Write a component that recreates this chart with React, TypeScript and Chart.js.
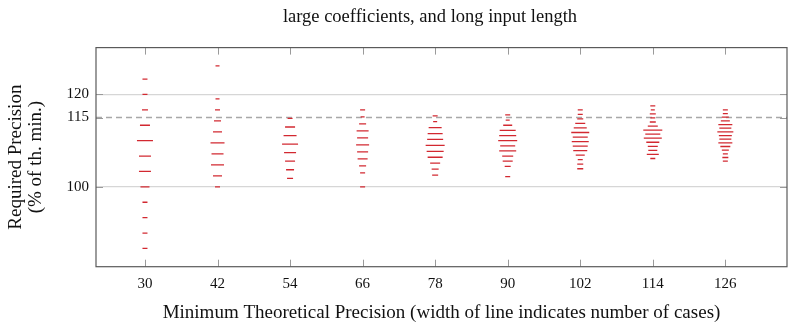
import React, { useEffect, useRef } from 'react';
import { Chart, registerables } from 'chart.js';

Chart.register(...registerables);

// ---- data ----
const categories = [30, 42, 54, 66, 78, 90, 102, 114, 126];
const xTickLabels = ['30', '42', '54', '66', '78', '90', '102', '114', '126'];
const yTickValues = [100, 115, 120];
const thresholdValue = 115;
const xMin = 21.9;
const xMax = 136.2;
const yMin = 82.72;
const yMax = 130.14;

const precision30 = [86.67, 90.0, 93.33, 96.67, 100.0, 103.33, 106.67, 110.0, 113.33, 116.67, 120.0, 123.33];
const cases30 = [5, 5, 5, 5, 9, 12, 12, 16, 10, 6, 5, 5];
const precision42 = [100.0, 102.38, 104.76, 107.14, 109.52, 111.9, 114.29, 116.67, 119.05, 126.19];
const cases42 = [5, 9, 13, 12, 14, 9, 7, 5, 4, 4];
const precision54 = [101.85, 103.7, 105.56, 107.41, 109.26, 111.11, 112.96, 114.81];
const cases54 = [6, 8, 10, 12, 16, 13, 10, 5];
const precision66 = [100.0, 103.03, 104.55, 106.06, 107.58, 109.09, 110.61, 112.12, 113.64, 115.15, 116.67];
const cases66 = [5, 5, 7, 10, 11, 13, 11, 12, 7, 4, 5];
const precision78 = [102.56, 103.85, 105.13, 106.41, 107.69, 108.97, 110.26, 111.54, 112.82, 114.1, 115.38];
const cases78 = [6, 7, 10, 15, 17, 19, 16, 15, 13, 4, 5];
const precision90 = [102.22, 104.44, 105.56, 106.67, 107.78, 108.89, 110.0, 111.11, 112.22, 113.33, 114.44, 115.56];
const cases90 = [5, 6, 10, 11, 17, 15, 19, 17, 16, 9, 4, 5];
const precision102 = [103.92, 104.9, 105.88, 106.86, 107.84, 108.82, 109.8, 110.78, 111.76, 112.75, 113.73, 114.71, 115.69, 116.67];
const cases102 = [6, 6, 5, 9, 14, 15, 17, 15, 18, 13, 10, 6, 5, 5];
const precision114 = [106.14, 107.02, 107.89, 108.77, 109.65, 110.53, 111.4, 112.28, 113.16, 114.04, 114.91, 115.79, 116.67, 117.54];
const cases114 = [5, 12, 9, 10, 13, 18, 15, 19, 10, 6, 5, 6, 4, 5];
const precision126 = [105.56, 106.35, 107.14, 107.94, 108.73, 109.52, 110.32, 111.11, 111.9, 112.7, 113.49, 114.29, 115.08, 115.87, 116.67];
const cases126 = [5, 6, 5, 7, 10, 14, 12, 13, 16, 12, 14, 9, 7, 5, 5];

const precisionByCategory = [precision30, precision42, precision54, precision66, precision78, precision90, precision102, precision114, precision126];
const casesByCategory = [cases30, cases42, cases54, cases66, cases78, cases90, cases102, cases114, cases126];

const titleText = 'large coefficients, and long input length';
const xTitle = 'Minimum Theoretical Precision (width of line indicates number of cases)';
const yTitleLines = ['Required Precision', '(% of th. min.)'];

const FONT = '"Liberation Serif", "Times New Roman", serif';
const RED = 'rgb(210, 40, 48)';

const decorPlugin = {
  id: 'decor',
  afterDraw(chart: any) {
    const { ctx, chartArea: a, scales } = chart;
    ctx.save();
    // inward tick marks
    ctx.strokeStyle = '#9a9a9a';
    ctx.lineWidth = 1;
    const tl = 7;
    categories.forEach((c) => {
      const px = Math.round(scales.x.getPixelForValue(c)) + 0.5;
      ctx.beginPath();
      ctx.moveTo(px, a.top);
      ctx.lineTo(px, a.top + tl);
      ctx.moveTo(px, a.bottom);
      ctx.lineTo(px, a.bottom - tl);
      ctx.stroke();
    });
    yTickValues.forEach((v) => {
      const py = Math.round(scales.y.getPixelForValue(v)) + 0.5;
      ctx.beginPath();
      ctx.moveTo(a.left, py);
      ctx.lineTo(a.left + tl, py);
      ctx.moveTo(a.right, py);
      ctx.lineTo(a.right - tl, py);
      ctx.stroke();
    });
    // frame
    ctx.strokeStyle = '#5a5a5a';
    ctx.lineWidth = 1.2;
    ctx.strokeRect(a.left, a.top, a.right - a.left, a.bottom - a.top);
    // texts
    ctx.fillStyle = '#111';
    ctx.textAlign = 'center';
    ctx.textBaseline = 'middle';
    ctx.font = `18.5px ${FONT}`;
    ctx.fillText(titleText, 430, 17);
    ctx.font = `19px ${FONT}`;
    ctx.fillText(xTitle, (a.left + a.right) / 2, 313);
    const cy = (a.top + a.bottom) / 2;
    ctx.translate(0, cy);
    ctx.rotate(-Math.PI / 2);
    ctx.fillText(yTitleLines[0], 0, 16);
    ctx.fillText(yTitleLines[1], 0, 36);
    ctx.restore();
  },
};

export default function App() {
  const canvasRef = useRef<HTMLCanvasElement | null>(null);

  useEffect(() => {
    if (!canvasRef.current) return;
    const scatterSets = categories.map((c, i) => ({
      type: 'scatter' as const,
      label: String(c),
      data: precisionByCategory[i].map((p, j) => ({ x: c, y: p, n: casesByCategory[i][j] })),
      pointStyle: 'line',
      pointRadius: (ctx: any) => (ctx.raw ? ctx.raw.n / 2 : 0),
      pointHoverRadius: (ctx: any) => (ctx.raw ? ctx.raw.n / 2 : 0),
      borderColor: RED,
      backgroundColor: RED,
      pointBorderWidth: 1.3,
      borderWidth: 1.3,
      order: 0,
    }));
    const thresholdSet = {
      type: 'line' as const,
      label: 'threshold',
      data: [
        { x: xMin, y: thresholdValue },
        { x: xMax, y: thresholdValue },
      ],
      borderColor: '#a8a8a8',
      borderWidth: 1.6,
      borderDash: [6, 4],
      pointRadius: 0,
      order: 10,
    };
    const chart = new Chart(canvasRef.current, {
      type: 'scatter',
      data: { datasets: [thresholdSet as any, ...scatterSets] },
      options: {
        animation: false,
        responsive: false,
        events: [],
        layout: { autoPadding: false, padding: { top: 47.6, right: 1, left: 0, bottom: 0 } },
        plugins: { legend: { display: false }, tooltip: { enabled: false }, title: { display: false } },
        scales: {
          x: {
            type: 'linear',
            min: xMin,
            max: xMax,
            afterBuildTicks: (s: any) => {
              s.ticks = categories.map((v) => ({ value: v }));
            },
            afterFit: (s: any) => {
              s.height = 63.3;
              s.paddingLeft = 0;
              s.paddingRight = 0;
            },
            ticks: {
              autoSkip: false,
              maxRotation: 0,
              padding: 8,
              color: '#111',
              font: { family: FONT, size: 15 },
              callback: (_v: any, idx: number) => xTickLabels[idx],
            },
            grid: { display: false, drawTicks: false },
            border: { display: false },
          },
          y: {
            type: 'linear',
            min: yMin,
            max: yMax,
            afterBuildTicks: (s: any) => {
              s.ticks = yTickValues.map((v) => ({ value: v }));
            },
            afterFit: (s: any) => {
              s.width = 96;
              s.paddingTop = 0;
              s.paddingBottom = 0;
            },
            ticks: {
              padding: 7,
              color: '#111',
              font: { family: FONT, size: 15 },
              callback: (v: any) => String(v),
            },
            grid: {
              drawTicks: false,
              color: (ctx: any) => (ctx.tick && ctx.tick.value === thresholdValue ? 'rgba(0,0,0,0)' : '#d6d6d6'),
              lineWidth: 1.2,
            },
            border: { display: false },
          },
        },
      },
      plugins: [decorPlugin],
    } as any);
    return () => chart.destroy();
  }, []);

  return (
    <div style={{ position: 'absolute', left: 0, top: 0, width: 788, height: 330, background: '#fff' }}>
      <canvas ref={canvasRef} width={788} height={330} style={{ display: 'block', width: 788, height: 330 }} />
    </div>
  );
}
